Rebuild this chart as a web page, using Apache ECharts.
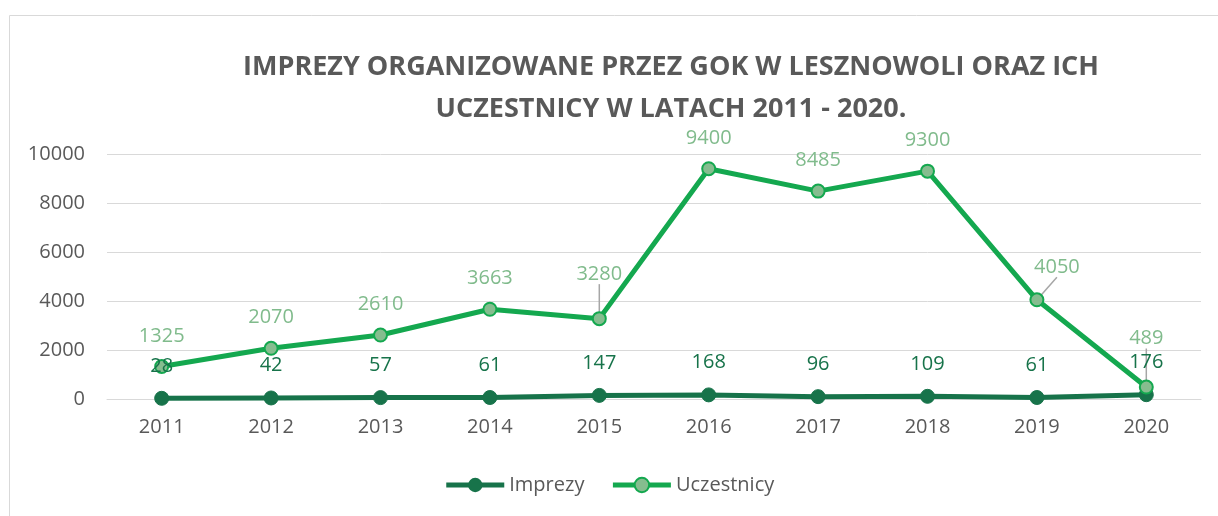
<!DOCTYPE html>
<html>
<head>
<meta charset="utf-8">
<script src="https://cdn.jsdelivr.net/npm/echarts@6/dist/echarts.min.js"></script>
<style>
  html, body { margin: 0; padding: 0; background: #fff; }
  #main { width: 1218px; height: 516px; }
</style>
</head>
<body>
<div id="main"></div>
<script>
  var years = ['2011', '2012', '2013', '2014', '2015', '2016', '2017', '2018', '2019', '2020'];
  var imprezy = [28, 42, 57, 61, 147, 168, 96, 109, 61, 176];
  var uczestnicy = [1325, 2070, 2610, 3663, 3280, 9400, 8485, 9300, 4050, 489];
  var yTicks = [0, 2000, 4000, 6000, 8000, 10000];

  // labels moved away from the point (Excel-style, with leader line)
  var moved = { 4: { dy: -14 }, 8: { dx: 20, dy: -2 }, 9: { dy: -18 } };

  var uczData = uczestnicy.map(function (v, i) {
    return moved[i] ? { value: v, labelLine: { show: true } } : v;
  });

  var chart = echarts.init(document.getElementById('main'));
  var option = {
    animation: false,
    textStyle: { fontFamily: 'Open Sans' },
    graphic: [{
      type: 'rect',
      shape: { x: 9.5, y: 15.5, width: 1300, height: 600 },
      style: { fill: 'none', stroke: '#d9d9d9', lineWidth: 1 },
      silent: true
    }],
    title: {
      text: 'IMPREZY ORGANIZOWANE PRZEZ GOK W LESZNOWOLI ORAZ ICH\nUCZESTNICY W LATACH 2011 - 2020.',
      left: 666,
      textAlign: 'center',
      top: 41,
      textStyle: { color: '#595959', fontSize: 27, fontWeight: 'bold', lineHeight: 42, fontFamily: 'Open Sans' }
    },
    legend: {
      bottom: 16,
      left: 'center',
      itemWidth: 58,
      itemHeight: 18,
      itemGap: 26,
      lineStyle: { width: 5 },
      textStyle: { color: '#595959', fontSize: 20 },
      data: ['Imprezy', 'Uczestnicy']
    },
    grid: { left: 107, right: 17, top: 154, bottom: 117 },
    xAxis: {
      type: 'category',
      data: years,
      axisLine: { lineStyle: { color: '#d9d9d9' } },
      axisTick: { show: false },
      axisLabel: { color: '#595959', fontSize: 20, margin: 18 }
    },
    yAxis: {
      type: 'value',
      min: yTicks[0],
      max: yTicks[yTicks.length - 1],
      interval: 2000,
      axisLabel: { color: '#595959', fontSize: 20, margin: 22, formatter: function (v) { return String(v); } },
      splitLine: { lineStyle: { color: '#d9d9d9' } }
    },
    series: [
      {
        name: 'Imprezy',
        type: 'line',
        data: imprezy,
        symbol: 'circle',
        symbolSize: 14,
        lineStyle: { color: '#17734a', width: 5 },
        itemStyle: { color: '#17734a', borderColor: '#17734a' },
        label: { show: true, position: 'top', distance: 15, color: '#17734a', fontSize: 20 }
      },
      {
        name: 'Uczestnicy',
        type: 'line',
        data: uczData,
        symbol: 'circle',
        symbolSize: 13,
        lineStyle: { color: '#14a84f', width: 5 },
        itemStyle: { color: '#86bd8f', borderColor: '#14a84f', borderWidth: 2 },
        label: { show: true, position: 'top', distance: 13, color: '#80bb8c', fontSize: 20 },
        labelLine: { show: false, lineStyle: { color: '#a6a6a6', width: 1.5 } },
        labelLayout: function (params) {
          return moved[params.dataIndex] || {};
        }
      }
    ]
  };
  chart.setOption(option);
</script>
</body>
</html>
